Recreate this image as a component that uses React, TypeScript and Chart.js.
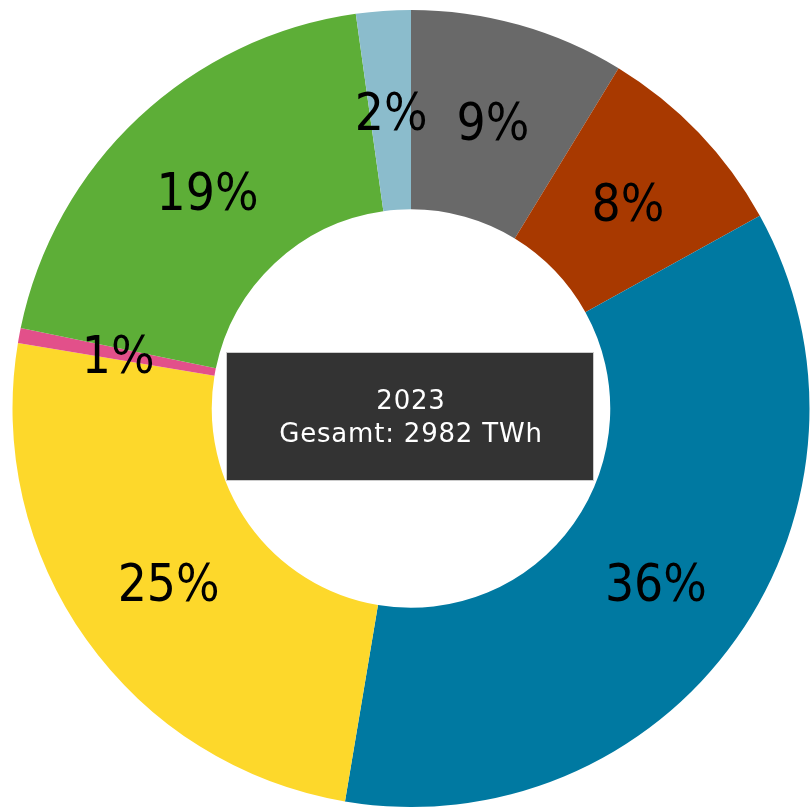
import React, { useEffect, useRef } from "react";
import { Chart, registerables } from "chart.js";

Chart.register(...registerables);

const categories = ["Kernenergie", "Braunkohle", "Sonstige A", "Sonstige B", "Sonstige C", "Sonstige D", "Sonstige E"];
const values = [260, 246, 1064, 745, 18, 583, 66];
const percentLabels = ["9%", "8%", "36%", "25%", "1%", "19%", "2%"];
const colors = ["#696969", "#a83900", "#0079a1", "#fdd82b", "#e2508a", "#5dae37", "#8bbccc"];
const centerLines = ["2023", "Gesamt: 2982 TWh"];

const labelPlugin = {
  id: "labelsAndCenter",
  afterDraw(chart: any) {
    const ctx = chart.ctx;
    const meta = chart.getDatasetMeta(0);
    ctx.save();
    ctx.textAlign = "center";
    ctx.textBaseline = "middle";
    meta.data.forEach((arc: any, i: number) => {
      const p = arc.getCenterPoint();
      ctx.save();
      ctx.translate(p.x + 1, p.y + 6);
      ctx.scale(0.9, 1);
      ctx.fillStyle = "#000000";
      ctx.font = "51px 'DejaVu Sans'";
      ctx.fillText(percentLabels[i], 0, 0);
      ctx.restore();
    });
    const a = meta.data[0];
    const cx = a.x;
    const cy = a.y;
    const w = 368;
    const h = 129;
    ctx.fillStyle = "#333333";
    ctx.fillRect(cx - w / 2 - 1, cy - h / 2 + 8, w, h);
    ctx.strokeStyle = "#cccccc";
    ctx.lineWidth = 1;
    ctx.strokeRect(cx - w / 2 - 1 + 0.5, cy - h / 2 + 8 + 0.5, w - 1, h - 1);
    ctx.fillStyle = "#ffffff";
    ctx.font = "26px 'DejaVu Sans'";
    try { (ctx as any).letterSpacing = "0.8px"; } catch (e) {}
    ctx.fillText(centerLines[0], cx, cy - 6);
    ctx.fillText(centerLines[1], cx, cy + 27);
    ctx.restore();
  },
};

export default function App() {
  const ref = useRef<HTMLCanvasElement>(null);
  useEffect(() => {
    document.body.style.margin = "0";
    document.body.style.overflow = "hidden";
    const chart = new Chart(ref.current!, {
      type: "doughnut",
      data: {
        labels: categories,
        datasets: [
          {
            data: values,
            backgroundColor: colors,
            borderWidth: 0,
          },
        ],
      },
      options: {
        animation: false,
        responsive: false,
        cutout: "50%",
        plugins: { legend: { display: false }, tooltip: { enabled: false } },
        layout: { padding: 0 },
      },
      plugins: [labelPlugin],
    });
    return () => chart.destroy();
  }, []);
  return (
    <div style={{ position: "absolute", left: 12, top: 10, width: 798, height: 797 }}>
      <canvas ref={ref} width={798} height={797} />
    </div>
  );
}
